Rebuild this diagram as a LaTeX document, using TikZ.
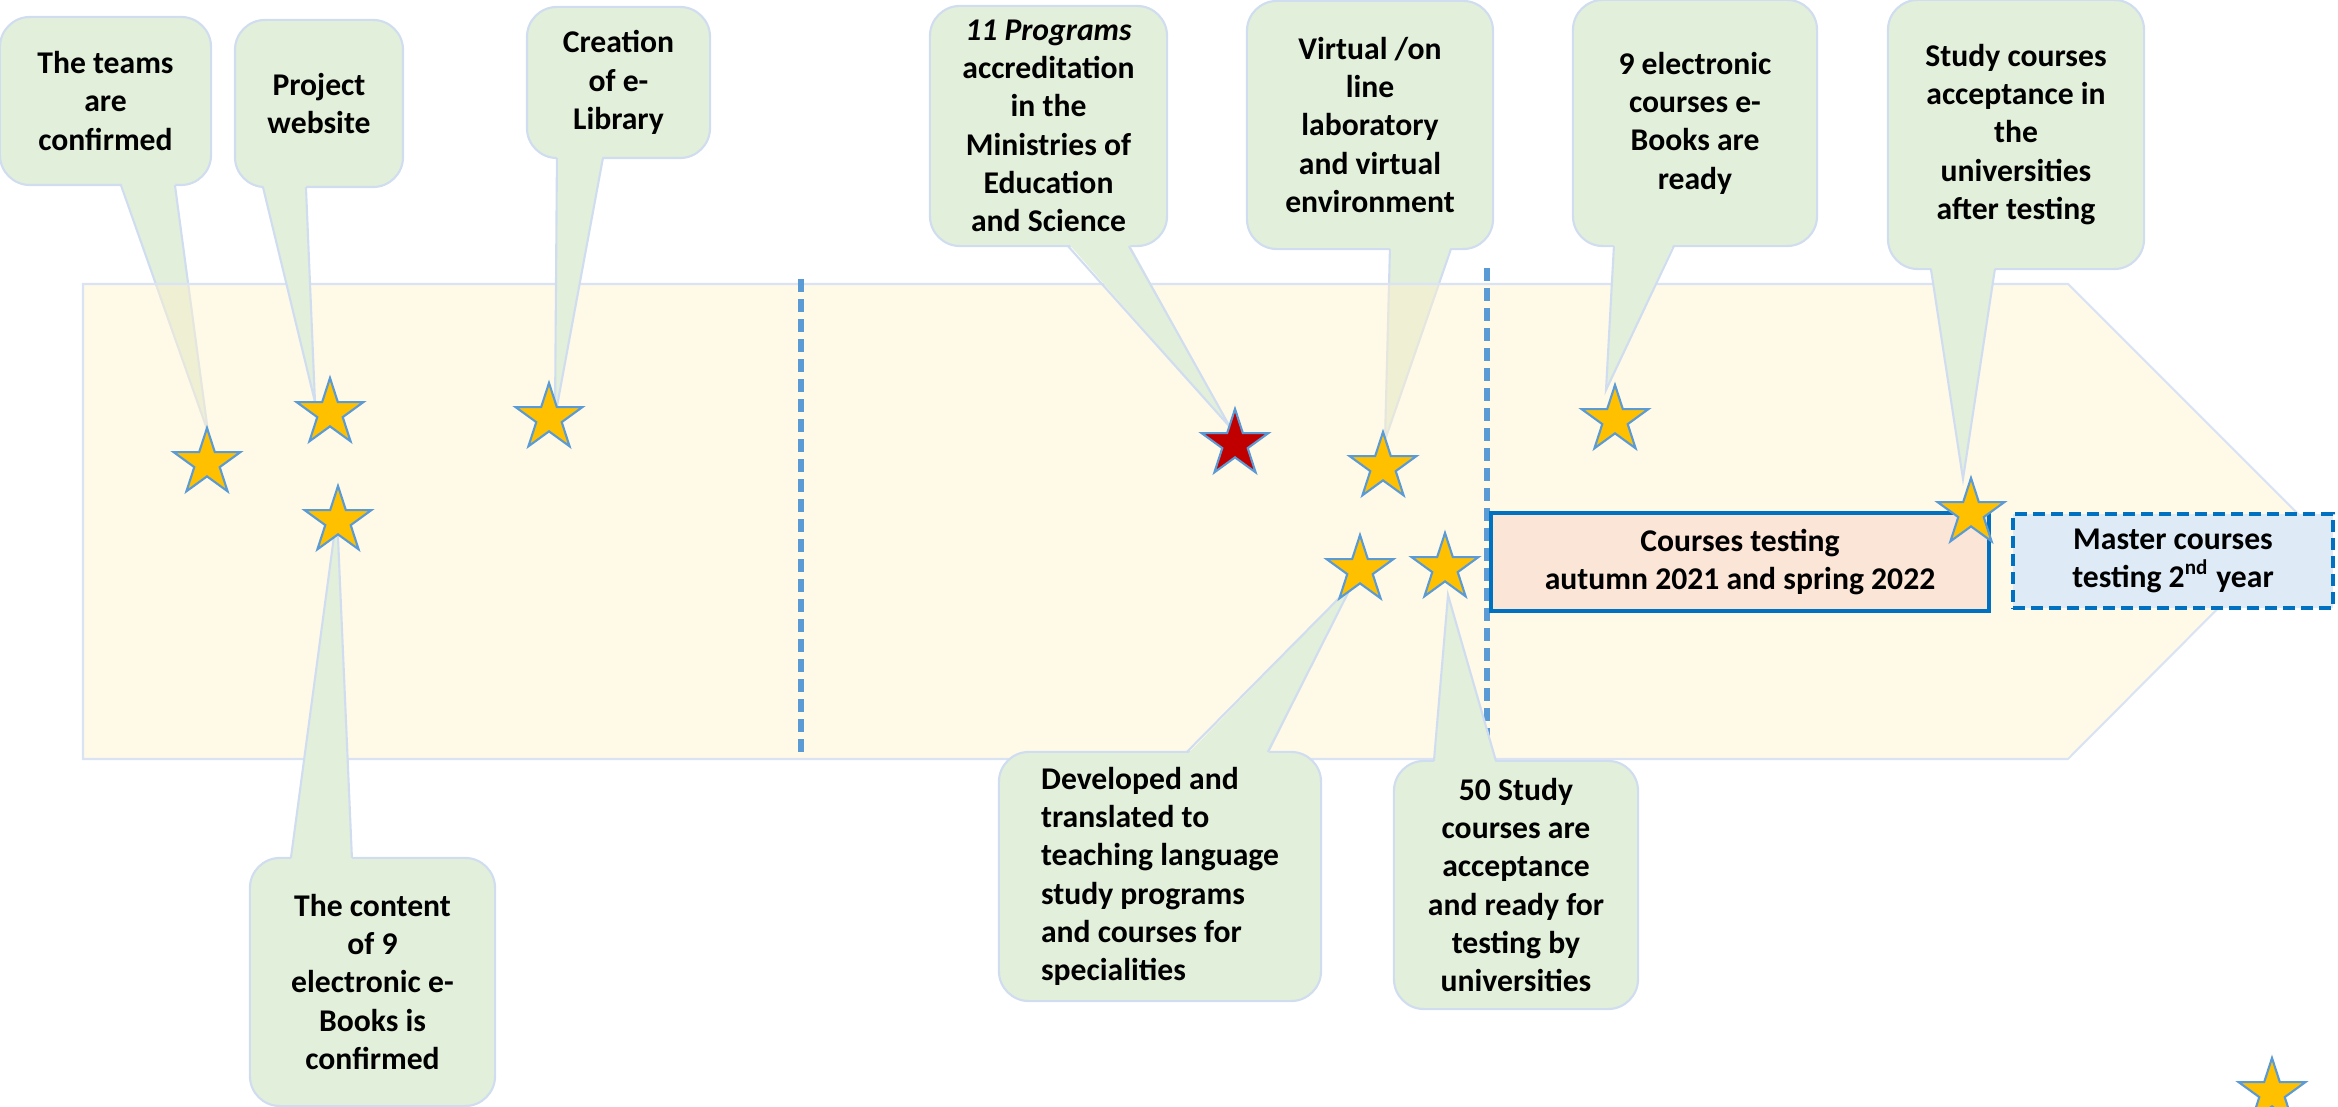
\documentclass[tikz,border=0pt]{standalone}
\usepackage{fontspec}
\setmainfont{Carlito}
\usetikzlibrary{shapes.geometric,calc}
\definecolor{callG}{HTML}{E2EFDA}
\definecolor{callB}{HTML}{D0DDF0}
\definecolor{bandC}{HTML}{FFF2CC}
\definecolor{bandB}{HTML}{DAE3F3}
\definecolor{starY}{HTML}{FFC000}
\definecolor{starB}{HTML}{5B9BD5}
\definecolor{starR}{HTML}{C00000}
\definecolor{dashB}{HTML}{5B9BD5}
\definecolor{boxB}{HTML}{0070C0}
\definecolor{peach}{HTML}{FBE5D6}
\definecolor{paleB}{HTML}{DEEBF7}
\pgfdeclarelayer{lowcall}
\pgfdeclarelayer{bandl}
\pgfdeclarelayer{call}
\pgfsetlayers{lowcall,bandl,call,main}
\newcommand{\mkptr}[6]{%
  \fill[callG] ($(#1.#2)+(#3,#6)$) -- (#5) -- ($(#1.#2)+(#4,#6)$) -- cycle;
  \draw[ptrline] ($(#1.#2)+(#3,0)$) -- (#5) -- ($(#1.#2)+(#4,0)$);}
\begin{document}
\begin{tikzpicture}[x=0.01cm, y=-0.01cm,
  txt/.style={font=\fontsize{9}{10.9}\selectfont\bfseries},
  callbox/.style={txt, fill=callG, draw=callB, line width=0.6pt,
     rounded corners=0.3cm, align=center, inner sep=0pt, outer sep=0pt},
  ptrline/.style={draw=callB, line width=0.6pt},
  starshape/.style={star, star points=5, star point ratio=2.618,
     minimum size=0.7cm, inner sep=0pt, outer sep=0pt,
     fill=starY, draw=starB, line width=0.6pt},
  redstar/.style={starshape, fill=starR},
  divider/.style={draw=dashB, line width=1.6pt, dash pattern=on 0.13cm off 0.07cm},
]
\useasboundingbox (0,0) rectangle (2338,1107);

% stars (top layer)
\node[starshape] (s1) at (207,463) {};
\node[starshape] (s2) at (330,413) {};
\node[starshape] (s3) at (549,418) {};
\node[starshape] (s4) at (338,521) {};
\node[redstar]   (s5) at (1235,444) {};
\node[starshape] (s6) at (1383,467) {};
\node[starshape] (s7) at (1360,570) {};
\node[starshape] (s8) at (1445,568) {};
\node[starshape] (s9) at (1615,420) {};
\node[starshape] (s10) at (1971,513) {};
\node[starshape] (s11) at (2272,1093) {};

% callouts lying under the band
\begin{pgfonlayer}{lowcall}
\node[callbox, minimum width=2.11cm, minimum height=1.68cm] (b1) at (105.5,101) {The teams\\are\\confirmed};
\mkptr{b1}{south west}{121}{175}{$(s1)+(1,-31)$}{-3}
\node[callbox, minimum width=2.46cm, minimum height=2.48cm] (b5) at (1370,125) {Virtual /on\\line\\laboratory\\and virtual\\environment};
\mkptr{b5}{south west}{143}{204}{$(s6)+(2,-27)$}{-3}
\end{pgfonlayer}

% band and dividers
\begin{pgfonlayer}{bandl}
\path[fill=bandC, fill opacity=0.45, draw=bandB, line width=0.6pt]
  (83,284) -- (2068,284) -- (2305,521) -- (2068,759) -- (83,759) -- cycle;
\draw[divider] (801,279) -- (801,753);
\draw[divider] (1487,268) -- (1487,757);
\end{pgfonlayer}

% other callouts
\begin{pgfonlayer}{call}
\node[callbox, minimum width=1.68cm, minimum height=1.67cm] (b2) at (319,103.5) {Project\\website};
\mkptr{b2}{south west}{28}{71}{$(s2)+(-15,-11)$}{-3}
\node[callbox, minimum width=1.83cm, minimum height=1.51cm] (b3) at (618.5,82.5) {Creation\\of e-\\Library};
\mkptr{b3}{south west}{30}{76}{$(s3)+(6,-1)$}{-3}
\node[callbox, minimum width=2.37cm, minimum height=2.40cm] (b4) at (1048.5,126) {\textit{11 Programs}\\accreditation\\in the\\Ministries of\\Education\\and Science};
\mkptr{b4}{south west}{138}{199}{$(s5)+(-5,-17)$}{-3}
\node[callbox, minimum width=2.44cm, minimum height=2.46cm] (b6) at (1695,123) {9 electronic\\courses e-\\Books are\\ready};
\mkptr{b6}{south west}{41}{101}{$(s9)+(-9,-30)$}{-3}
\node[callbox, minimum width=2.56cm, minimum height=2.69cm] (b7) at (2016,134.5) {Study courses\\acceptance in\\the\\universities\\after testing};
\mkptr{b7}{south west}{43}{107}{$(s10)+(-8,-34)$}{-3}
\node[callbox, align=left, minimum width=3.22cm, minimum height=2.49cm] (b8) at (1160,876.5) {Developed and\\translated to\\teaching language\\study programs\\and courses for\\specialities};
\mkptr{b8}{north west}{188}{269}{$(s7)+(-8,15)$}{3}
\node[callbox, minimum width=2.44cm, minimum height=2.48cm] (b9) at (1516,885) {50 Study\\courses are\\acceptance\\and ready for\\testing by\\universities};
\mkptr{b9}{north west}{40}{102}{$(s8)+(3,27)$}{3}
\node[callbox, minimum width=2.45cm, minimum height=2.48cm] (b10) at (372.5,982) {The content\\of 9\\electronic e-\\Books is\\confirmed};
\mkptr{b10}{north west}{41}{102}{$(s4)+(-1,-7)$}{3}

% testing boxes
\node[txt, align=center, fill=peach, draw=boxB, line width=1.1pt, inner sep=0pt,
  minimum width=4.98cm, minimum height=0.98cm] (c1) at (1740,562)
  {Courses testing\\autumn 2021 and spring 2022};
\node[txt, align=center, fill=paleB, draw=boxB, line width=1.1pt, inner sep=0pt,
  dash pattern=on 0.12cm off 0.06cm,
  minimum width=3.20cm, minimum height=0.94cm] (c2) at (2173,561)
  {Master courses\\testing 2\textsuperscript{nd} year};
\end{pgfonlayer}
\end{tikzpicture}
\end{document}
